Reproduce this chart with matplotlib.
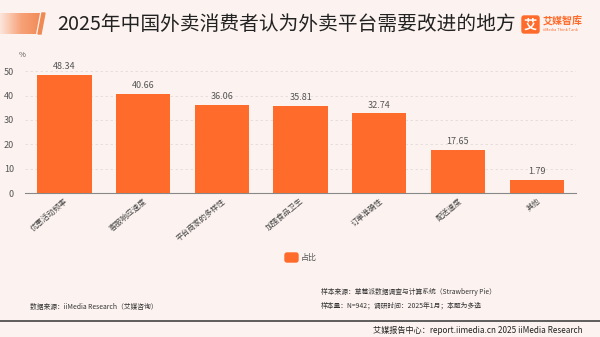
import numpy as np
import matplotlib
matplotlib.use("Agg")
import matplotlib.pyplot as plt
from matplotlib.patches import Polygon, FancyBboxPatch

# data
categories = ["优惠活动频率", "客服响应速度", "平台商家的多样性", "加强食品卫生",
              "订单准确性", "配送速度", "其他"]
values = [48.34, 40.66, 36.06, 35.81, 32.74, 17.65, 1.79]
yticks = [0, 10, 20, 30, 40, 50]

plt.rcParams['font.family'] = ['Noto Sans CJK SC', 'DejaVu Sans']
bar_color = "#FF6B2B"
bg = "#FCF3F0"
min_bar = 5.5  # smallest drawn bar height, like the source chart tool

fig = plt.figure(figsize=(6.0, 3.37), dpi=100, facecolor=bg)

# title band with orange gradient slash
deco = fig.add_axes([0, 0, 1, 1], zorder=-1)
deco.set_xlim(0, 600)
deco.set_ylim(337, 0)
deco.axis("off")
grad = np.linspace(0, 1, 64).reshape(1, -1)
img = deco.imshow(grad, extent=(0, 42, 34, 13), cmap=matplotlib.colors.LinearSegmentedColormap.from_list(
    "o", ["#FCE6DC", "#F7A27A", "#F08A55"]), aspect="auto")
slash = Polygon([[0, 13], [40, 13], [36, 34], [0, 34]], closed=True, transform=deco.transData)
img.set_clip_path(slash)
deco.add_patch(Polygon([[42, 13], [45, 13], [41, 34], [38, 34]], closed=True, color="#F08A55"))
deco.text(57, 24, "2025年中国外卖消费者认为外卖平台需要改进的地方", fontsize=14.2,
          va="center", ha="left", color="#222222")
# logo
deco.add_patch(FancyBboxPatch((522, 16), 17, 17, boxstyle="round,pad=0,rounding_size=2",
                              color=bar_color))
deco.text(530.5, 24.5, "艾", fontsize=9.5, color="white", ha="center", va="center", weight="bold")
deco.text(543, 21, "艾媒智库", fontsize=7.2, color=bar_color, ha="left", va="center", weight="bold")
deco.text(543, 30, "iiMedia Think Tank", fontsize=2.8, color=bar_color, ha="left", va="center")

# footer
deco.plot([0, 600], [321, 321], color="#444444", lw=1.2)
deco.text(30, 307, "数据来源：iiMedia Research（艾媒咨询）", fontsize=4.9, color="#333333", va="center")
deco.text(321, 292, "样本来源：草莓派数据调查与计算系统（Strawberry Pie）", fontsize=4.9,
          color="#333333", va="center")
deco.text(321, 306, "样本量：N=942；调研时间：2025年1月；本题为多选", fontsize=4.9,
          color="#333333", va="center")
deco.text(373, 330, "艾媒报告中心：report.iimedia.cn 2025 iiMedia Research", fontsize=5.9,
          color="#222222", va="center")

# legend
deco.add_patch(FancyBboxPatch((285, 253), 13, 9, boxstyle="round,pad=0,rounding_size=2",
                              color=bar_color))
deco.text(301, 257.5, "占比", fontsize=5.8, color="#555555", va="center")

# chart
ax = fig.add_axes([0.042, 0.427, 0.918, 0.362])
ax.set_facecolor("none")
x = np.arange(len(categories))
heights = [max(v, min_bar) for v in values]
ax.bar(x, heights, width=0.69, color=bar_color, zorder=3)
for xi, v, h in zip(x, values, heights):
    ax.text(xi, h + 1.5, f"{v:.2f}", ha="center", va="bottom", fontsize=6.5,
            color="#555555", clip_on=False)
ax.set_xlim(-0.5, len(categories) - 0.5)
ax.set_ylim(0, 50)
ax.set_yticks(yticks)
ax.set_xticks(x)
ax.set_xticklabels(categories, rotation=40, ha="right", rotation_mode="anchor",
                   fontsize=5.5, color="#444444")
ax.tick_params(axis="y", labelsize=6.5, colors="#555555", length=0, pad=8)
ax.tick_params(axis="x", length=0, pad=3)
ax.yaxis.grid(True, linestyle=(0, (3, 3)), color="#E2DCDA", lw=0.6, zorder=0)
for s in ["top", "right", "left"]:
    ax.spines[s].set_visible(False)
ax.spines["bottom"].set_color("#888888")
ax.spines["bottom"].set_linewidth(0.8)
ax.text(-0.005, 1.1, "%", transform=ax.transAxes, fontsize=5.5, color="#555555",
        ha="center", va="bottom")

plt.savefig("out.png", dpi=100, facecolor=bg)
